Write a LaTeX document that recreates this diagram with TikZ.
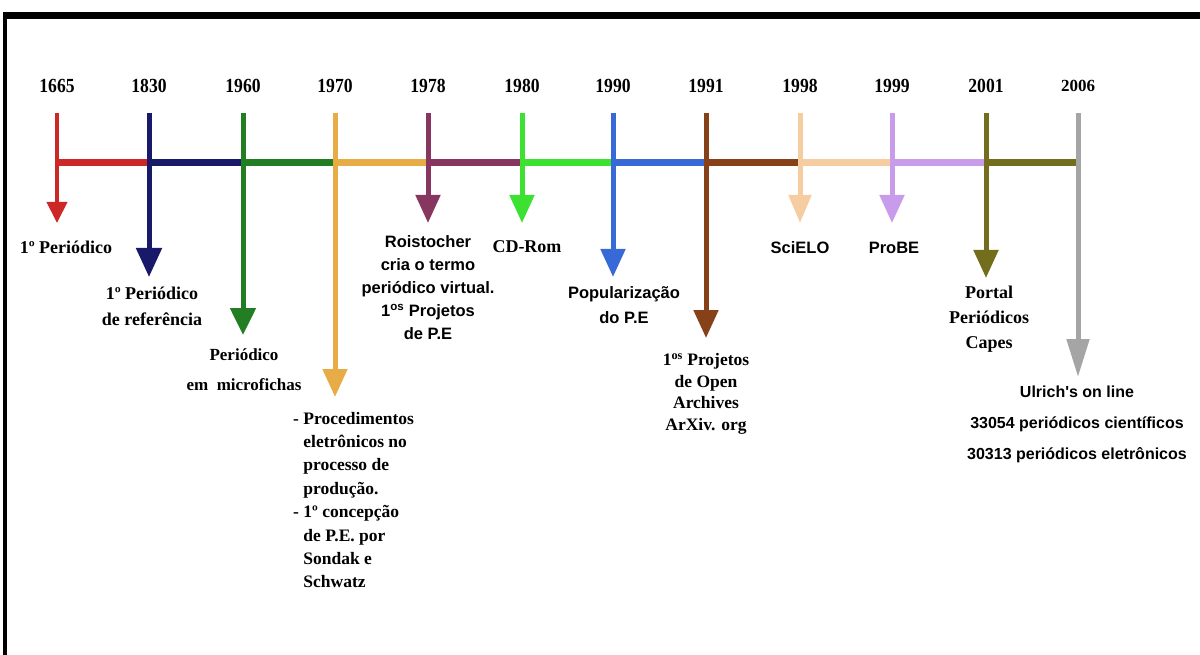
\documentclass[tikz,border=0pt]{standalone}
\usepackage{fontspec}
\setmainfont{Liberation Serif}
\newfontfamily\tlsans{Liberation Sans}
\newfontfamily\tlyear[FakeStretch=0.88]{Liberation Serif}
\usetikzlibrary{arrows.meta}

\definecolor{c1665}{RGB}{205,40,40}
\definecolor{c1830}{RGB}{25,25,105}
\definecolor{c1960}{RGB}{35,125,35}
\definecolor{c1970}{RGB}{232,172,70}
\definecolor{c1978}{RGB}{135,55,95}
\definecolor{c1980}{RGB}{60,225,50}
\definecolor{c1990}{RGB}{55,105,215}
\definecolor{c1991}{RGB}{135,65,25}
\definecolor{c1998}{RGB}{245,205,160}
\definecolor{c1999}{RGB}{200,155,235}
\definecolor{c2001}{RGB}{115,110,30}
\definecolor{c2006}{RGB}{165,165,165}

\tikzset{
  year/.style={font=\tlyear\bfseries\fontsize{20}{22}\selectfont, inner sep=0pt},
  stem/.style={line width=5pt, -{Triangle[width=24pt,length=28pt]}},
  axis/.style={line width=7pt},
  lbl/.style={font=\bfseries\fontsize{18}{26}\selectfont, align=center, inner sep=0pt},
  slbl/.style={font=\tlsans\bfseries\fontsize{16.5}{23}\selectfont, align=center, inner sep=0pt}
}

\begin{document}
\begin{tikzpicture}[x=1pt,y=-1pt]
\useasboundingbox (0,0) rectangle (1200,655);

% frame
\draw[black, line width=7pt] (3,15.5) -- (1200,15.5);
\draw[black, line width=4pt] (5,12) -- (5,655);

% years
\node[year] (y1665) at (57,86) {1665};
\node[year] (y1830) at (149,86) {1830};
\node[year] (y1960) at (243,86) {1960};
\node[year] (y1970) at (335,86) {1970};
\node[year] (y1978) at (428,86) {1978};
\node[year] (y1980) at (522,86) {1980};
\node[year] (y1990) at (613,86) {1990};
\node[year] (y1991) at (706,86) {1991};
\node[year] (y1998) at (800,86) {1998};
\node[year] (y1999) at (892,86) {1999};
\node[year] (y2001) at (986,86) {2001};
\node[year, font=\bfseries\fontsize{17}{20}\selectfont] (y2006) at (1078,86) {2006};

% top and bottom of each stem
\coordinate (a1665) at (57,113);   \coordinate (b1665) at (57,223);
\coordinate (a1830) at (149,113);  \coordinate (b1830) at (149,277);
\coordinate (a1960) at (243,113);  \coordinate (b1960) at (243,335);
\coordinate (a1970) at (335,113);  \coordinate (b1970) at (335,397);
\coordinate (a1978) at (428,113);  \coordinate (b1978) at (428,223);
\coordinate (a1980) at (522,113);  \coordinate (b1980) at (522,223);
\coordinate (a1990) at (613,113);  \coordinate (b1990) at (613,277);
\coordinate (a1991) at (706,113);  \coordinate (b1991) at (706,338);
\coordinate (a1998) at (800,113);  \coordinate (b1998) at (800,223);
\coordinate (a1999) at (892,113);  \coordinate (b1999) at (892,223);
\coordinate (a2001) at (986,113);  \coordinate (b2001) at (986,278);
\coordinate (a2006) at (1078,113); \coordinate (b2006) at (1078,377);

% points on the line
\coordinate (h1665) at (57,163);
\coordinate (h1830) at (149,163);
\coordinate (h1960) at (243,163);
\coordinate (h1970) at (335,163);
\coordinate (h1978) at (428,163);
\coordinate (h1980) at (522,163);
\coordinate (h1990) at (613,163);
\coordinate (h1991) at (706,163);
\coordinate (h1998) at (800,163);
\coordinate (h1999) at (892,163);
\coordinate (h2001) at (986,163);
\coordinate (h2006) at (1078,163);

% time line
\draw[axis, c1665] (h1665) -- (h1830);
\draw[axis, c1830] (h1830) -- (h1960);
\draw[axis, c1960] (h1960) -- (h1970);
\draw[axis, c1970] (h1970) -- (h1978);
\draw[axis, c1978] (h1978) -- (h1980);
\draw[axis, c1980] (h1980) -- (h1990);
\draw[axis, c1990] (h1990) -- (h1991);
\draw[axis, c1991] (h1991) -- (h1998);
\draw[axis, c1998] (h1998) -- (h1999);
\draw[axis, c1999] (h1999) -- (h2001);
\draw[axis, c2001] (h2001) -- (h2006);

% stems
\draw[stem, c1665, line width=4pt, -{Triangle[width=20pt,length=21pt]}] (a1665) -- (b1665);
\draw[stem, c1830, -{Triangle[width=25pt,length=29pt]}] (a1830) -- (b1830);
\draw[stem, c1960, -{Triangle[width=25pt,length=27pt]}] (a1960) -- (b1960);
\draw[stem, c1970] (a1970) -- (b1970);
\draw[stem, c1978] (a1978) -- (b1978);
\draw[stem, c1980] (a1980) -- (b1980);
\draw[stem, c1990] (a1990) -- (b1990);
\draw[stem, c1991] (a1991) -- (b1991);
\draw[stem, c1998, -{Triangle[width=22pt,length=28pt]}] (a1998) -- (b1998);
\draw[stem, c1999] (a1999) -- (b1999);
\draw[stem, c2001] (a2001) -- (b2001);
\draw[stem, c2006, -{Triangle[width=22pt,length=38pt]}] (a2006) -- (b2006);

% labels
\node[lbl] (l1665) at (66,247) {1º Periódico};
\node[lbl] (l1830) at (152,306.5) {1º Periódico\\de referência};
\node[lbl, font=\bfseries\fontsize{17}{30}\selectfont] (l1960) at (244,370) {Periódico\\em~ microfichas};
\node[lbl, align=left, anchor=west, font=\bfseries\fontsize{17.5}{23.4}\selectfont] (l1970) at (293,500)
  {-~Procedimentos\\\phantom{-~}eletrônicos no\\\phantom{-~}processo de\\\phantom{-~}produção.\\
   -~1º concepção\\\phantom{-~}de P.E. por\\\phantom{-~}Sondak e\\\phantom{-~}Schwatz};
\node[slbl] (l1978) at (428,288) {Roistocher\\cria o termo\\periódico virtual.\\1\textsuperscript{os} Projetos\\de P.E};
\node[lbl] (l1980) at (527,247) {CD-Rom};
\node[slbl, font=\tlsans\bfseries\fontsize{16.5}{25}\selectfont] (l1990) at (624,305.5) {Popularização\\do P.E};
\node[lbl, font=\bfseries\fontsize{17.5}{21.7}\selectfont] (l1991) at (706,394) {1\textsuperscript{os} Projetos\\de Open\\Archives\\ArXiv. org};
\node[slbl] (l1998) at (800,248) {SciELO};
\node[slbl] (l1999) at (894,248) {ProBE};
\node[lbl, font=\bfseries\fontsize{18}{25}\selectfont] (l2001) at (989,319) {Portal\\Periódicos\\Capes};
\node[slbl, font=\tlsans\bfseries\fontsize{16}{31}\selectfont] (l2006) at (1077,424) {Ulrich's on line\\33054 periódicos científicos\\30313 periódicos eletrônicos};

\end{tikzpicture}
\end{document}
